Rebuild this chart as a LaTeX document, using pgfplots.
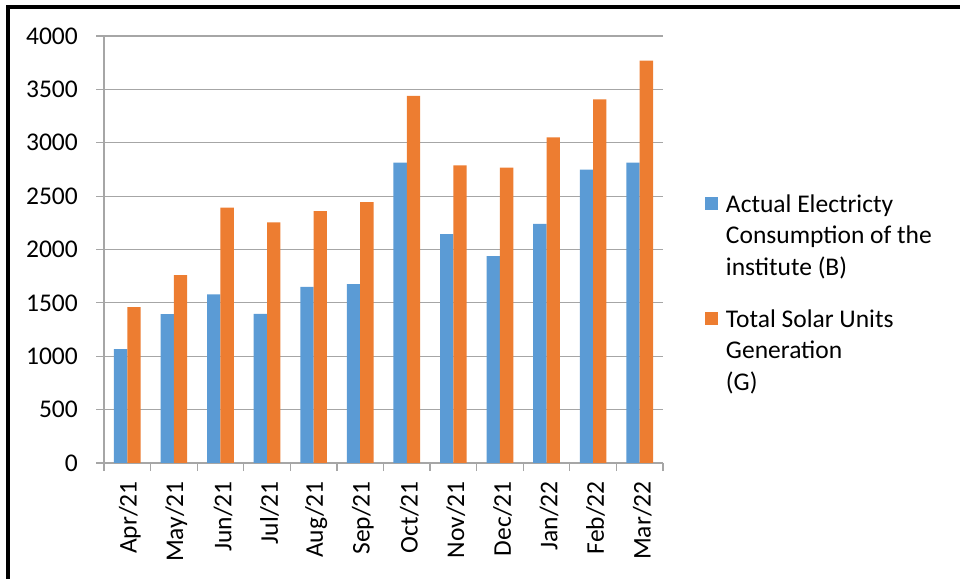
\documentclass[border=0pt]{standalone}
\usepackage{pgfplots}
\pgfplotsset{compat=1.18}
\usepackage{fontspec}
\setmainfont{Carlito}
\definecolor{cblue}{HTML}{5B9BD5}
\definecolor{corange}{HTML}{ED7D31}
\definecolor{cgrid}{HTML}{A6A6A6}
\newcommand{\cfont}{\fontsize{25.5bp}{31.5bp}\selectfont}
\begin{document}
\begin{tikzpicture}
\useasboundingbox (0,0) rectangle (960bp,579bp);
\draw[line width=4bp] (8bp,0) -- (8bp,572bp) -- (960bp,572bp);
\begin{axis}[
  at={(104bp,116bp)}, anchor=south west,
  scale only axis, width=559bp, height=427bp,
  xmin=-0.5, xmax=11.5, ymin=0, ymax=4000,
  axis lines=left, axis line style={-, cgrid, line width=1.2bp},
  ytick={0,500,...,4000}, ymajorgrids, grid style={cgrid, line width=1.2bp},
  tick align=outside, major tick length=8bp,
  tick style={cgrid, line width=1.2bp},
  xtick={-0.5,0.5,1.5,2.5,3.5,4.5,5.5,6.5,7.5,8.5,9.5,10.5,11.5},
  x tick label as interval,
  xticklabels={Apr/21,May/21,Jun/21,Jul/21,Aug/21,Sep/21,Oct/21,Nov/21,Dec/21,Jan/22,Feb/22,Mar/22},
  xticklabel style={rotate=90, anchor=east, inner sep=0pt, font=\cfont, xshift=-10bp, yshift=-2.5bp},
  yticklabel style={anchor=east, inner sep=0pt, font=\cfont, xshift=-18bp},
  /pgf/number format/assume math mode=true,
  /pgf/number format/1000 sep={},
  legend style={at={(1.0751,0.639)}, anchor=north west, draw=none, fill=none,
    inner sep=0pt, outer sep=0pt, row sep=91.5bp, column sep=8bp,
    nodes={inner sep=0pt, outer sep=0pt, font=\cfont}},
  legend cell align=left,
]
\addplot[ybar, bar width=0.286, bar shift=-0.143, fill=cblue, draw=none,
  legend image code/.code={\fill[cblue] (0bp,-8.5bp) rectangle (13bp,4.5bp);}]
  coordinates {(0,1067) (1,1395) (2,1579) (3,1398) (4,1650) (5,1675) (6,2814) (7,2143) (8,1937) (9,2240) (10,2749) (11,2814)};
\addlegendentry{\begin{tabular}[t]{@{}l@{}}Actual Electricty\\Consumption of the\\institute (B)\end{tabular}}
\addplot[ybar, bar width=0.286, bar shift=0.143, fill=corange, draw=none,
  legend image code/.code={\fill[corange] (0bp,-8.5bp) rectangle (13bp,4.5bp);}]
  coordinates {(0,1460) (1,1760) (2,2393) (3,2253) (4,2359) (5,2443) (6,3438) (7,2789) (8,2767) (9,3051) (10,3407) (11,3769)};
\addlegendentry{\begin{tabular}[t]{@{}l@{}}Total Solar Units\\Generation\\(G)\end{tabular}}
\end{axis}
\end{tikzpicture}
\end{document}
